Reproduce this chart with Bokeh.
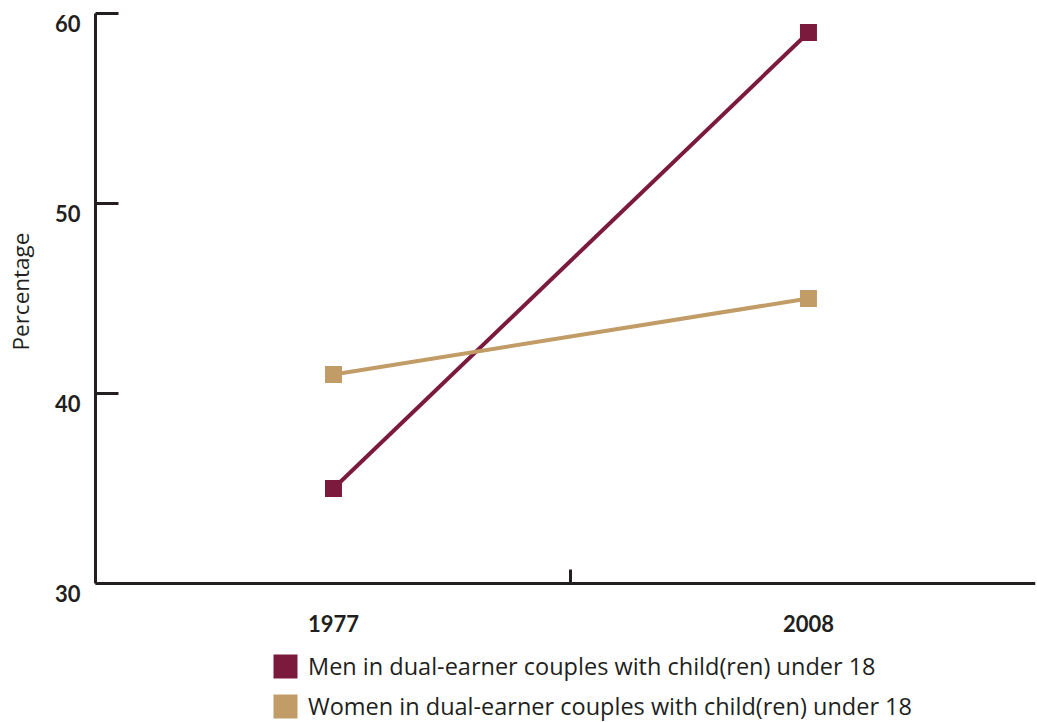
from bokeh.plotting import figure
from bokeh.models import (LinearAxis, FixedTicker, CustomJSTickFormatter, Legend,
                          LegendItem, Range1d, Title)
from bokeh.core.properties import value
from bokeh.embed import file_html
from bokeh.resources import INLINE

# ---- data ----
years = ["1977", "2008"]
men = [35, 59]
women = [41, 45]
series_labels = ["Men in dual-earner couples with child(ren) under 18",
                 "Women in dual-earner couples with child(ren) under 18"]
y_ticks = [30, 40, 50, 60]

MEN_C = "#7b1a3d"
WOMEN_C = "#c19c66"
INK = "#231f20"
FONT = "Lato"
TEXT_FONT = "Open Sans"

x = list(range(len(years)))
between = [(x[i] + x[i + 1]) / 2 for i in range(len(x) - 1)]

FRAME_H = 709
PX_PER_UNIT = 19.0
y_top = 60
y_bottom = y_top - FRAME_H / PX_PER_UNIT

p = figure(frame_width=940, frame_height=FRAME_H,
           x_range=Range1d(-0.501, 1.478), y_range=Range1d(y_bottom, y_top),
           output_backend="svg", toolbar_location=None,
           min_border_left=95, min_border_right=2,
           min_border_top=13, min_border_bottom=0)
p.grid.visible = False
p.outline_line_color = None
p.background_fill_color = "white"

# y axis: line + inward ticks
ya = p.yaxis[0]
ya.bounds = (30, 60)
ya.ticker = FixedTicker(ticks=y_ticks)
ya.formatter = CustomJSTickFormatter(code='return ""')
ya.major_tick_in = 23
ya.major_tick_out = 0
ya.minor_tick_line_color = None
ya.axis_line_width = 3
ya.axis_line_color = INK
ya.major_tick_line_width = 3
ya.major_tick_line_color = INK
ya.major_label_standoff = 0

# y labels (sitting slightly below their ticks, as in the reference)
yb = LinearAxis(ticker=FixedTicker(ticks=[t - 0.5 for t in y_ticks]),
                formatter=CustomJSTickFormatter(code="return String(Math.round(tick/10)*10)"),
                axis_line_color=None, major_tick_line_color=None,
                minor_tick_line_color=None, major_label_standoff=9,
                major_label_text_font=FONT, major_label_text_font_style="bold",
                major_label_text_font_size="22px", major_label_text_color=INK,
                axis_label="\u00a0", axis_label_text_font_size="1px",
                axis_label_standoff=9)
p.add_layout(yb, "left")

ttl = Title(text="Percentage", align="left", text_font=TEXT_FONT,
            text_font_size="22.5px", text_font_style="normal", text_color=INK,
            offset=372, standoff=5)
p.add_layout(ttl, "left")

# x axis line at y=30 with a single divider tick between the years
xa = p.xaxis[0]
xa.fixed_location = 30
xa.ticker = FixedTicker(ticks=x, minor_ticks=between)
xa.formatter = CustomJSTickFormatter(code='return ""')
xa.major_label_text_font_size = "0px"
xa.major_tick_in = 0
xa.major_tick_out = 0
xa.minor_tick_in = 14
xa.minor_tick_out = 0
xa.minor_tick_line_width = 3
xa.minor_tick_line_color = INK
xa.axis_line_width = 3
xa.axis_line_color = INK
xa.major_label_standoff = 0

# year labels
p.text(x=x, y=[30] * len(x), text=years, text_align="center",
       text_baseline="alphabetic", y_offset=40,
       text_font=value(FONT), text_font_style="bold", text_font_size="22px",
       text_color=INK)

# series
p.line(x, men, line_color=MEN_C, line_width=4)
p.scatter(x, men, marker="square", size=17, fill_color=MEN_C, line_color=None)
p.line(x, women, line_color=WOMEN_C, line_width=4)
p.scatter(x, women, marker="square", size=17, fill_color=WOMEN_C, line_color=None)

# legend (swatch-only renderers, nothing drawn in the plot area)
nan = float("nan")
items = []
for lab, c in zip(series_labels, [MEN_C, WOMEN_C]):
    r = p.quad(left=[nan], right=[nan], top=[nan], bottom=[nan],
               fill_color=c, line_color=None)
    items.append(LegendItem(label=lab, renderers=[r]))
legend = Legend(items=items, location=(175, 0), orientation="vertical",
                glyph_width=30, glyph_height=30, label_height=30, spacing=8,
                padding=0, margin=0, label_standoff=8,
                label_text_font=TEXT_FONT, label_text_font_size="23.5px",
                label_text_color=INK, border_line_color=None,
                background_fill_alpha=0)
p.add_layout(legend, "center")

open("out.html", "w").write(file_html(p, INLINE))
